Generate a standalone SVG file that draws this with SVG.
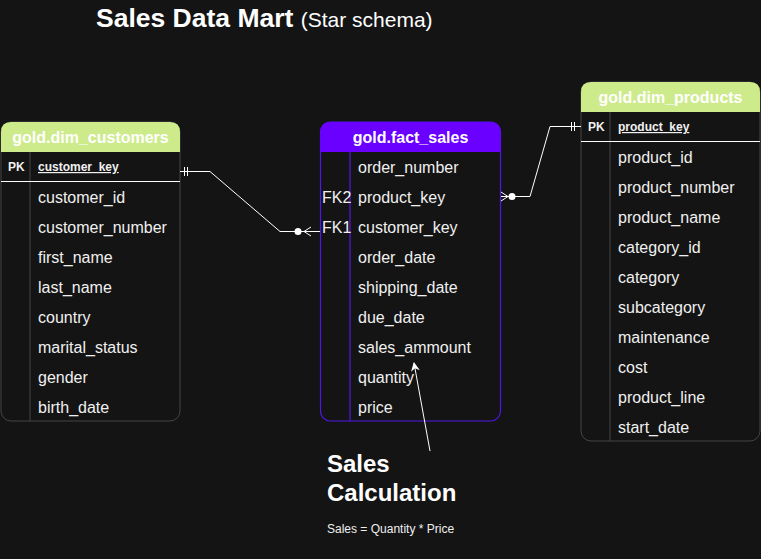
<svg xmlns="http://www.w3.org/2000/svg" width="761" height="559" viewBox="0 0 761 559">
<defs>
<style>
text{font-family:"Liberation Sans",Arial,sans-serif;fill:#f0f0f0}
.f{font-size:16px}
.h{font-size:16px;font-weight:bold;fill:#ffffff;text-anchor:middle}
.pk{font-size:12px;font-weight:bold}
.pkn{font-size:12px;font-weight:bold;text-decoration:underline}
.g{fill:#141414;stroke:#444444;stroke-width:1}
.p{fill:#141414;stroke:#4f18e6;stroke-width:1.2}
.ln{stroke:#ffffff;stroke-width:1;fill:none}
.gl{stroke:#444444;stroke-width:1}
.pl{stroke:#4f18e6;stroke-width:1.2}
</style>
<marker id="ah" viewBox="0 0 10 10" refX="9" refY="5" markerWidth="9" markerHeight="9" orient="auto-start-reverse" markerUnits="userSpaceOnUse">
<path d="M0,0 L10,5 L0,10 L3,5 Z" fill="#ffffff"/>
</marker>
</defs>
<rect width="761" height="559" fill="#141414"/>
<g id="title">
<text x="96" y="27" style="font-size:26.5px;font-weight:bold;fill:#ffffff">Sales Data Mart <tspan style="font-size:21px;font-weight:normal">(Star schema)</tspan></text>
</g>
<g id="dim_customers">
<rect class="g" x="1" y="122" width="179" height="299" rx="10"/>
<path d="M1,152 L1,132 Q1,122 11,122 L170,122 Q180,122 180,132 L180,152 Z" fill="#cdeb8b"/>
<line class="gl" x1="30" y1="152" x2="30" y2="421"/>
<line x1="1" y1="181.5" x2="180" y2="181.5" stroke="#ffffff" stroke-width="1.2"/>
<text class="h" x="90.5" y="143">gold.dim_customers</text>
<text class="pk" x="8" y="171">PK</text>
<text class="pkn" x="38" y="171">customer_key</text>
<text class="f" x="38" y="203">customer_id</text>
<text class="f" x="38" y="233">customer_number</text>
<text class="f" x="38" y="263">first_name</text>
<text class="f" x="38" y="293">last_name</text>
<text class="f" x="38" y="323">country</text>
<text class="f" x="38" y="353">marital_status</text>
<text class="f" x="38" y="383">gender</text>
<text class="f" x="38" y="413">birth_date</text>
</g>
<g id="fact_sales">
<rect class="p" x="320.5" y="122" width="180" height="299" rx="10"/>
<path d="M320.5,152 L320.5,132 Q320.5,122 330.5,122 L490.5,122 Q500.5,122 500.5,132 L500.5,152 Z" fill="#6a00ff"/>
<line class="pl" x1="350" y1="152" x2="350" y2="421"/>
<text class="h" x="410.5" y="143">gold.fact_sales</text>
<text class="f" x="358" y="173">order_number</text>
<text class="f" x="322" y="203">FK2</text>
<text class="f" x="358" y="203">product_key</text>
<text class="f" x="322" y="233">FK1</text>
<text class="f" x="358" y="233">customer_key</text>
<text class="f" x="358" y="263">order_date</text>
<text class="f" x="358" y="293">shipping_date</text>
<text class="f" x="358" y="323">due_date</text>
<text class="f" x="358" y="353">sales_ammount</text>
<text class="f" x="358" y="383">quantity</text>
<text class="f" x="358" y="413">price</text>
</g>
<g id="dim_products">
<rect class="g" x="581" y="82" width="179" height="359" rx="10"/>
<path d="M581,112 L581,92 Q581,82 591,82 L750,82 Q760,82 760,92 L760,112 Z" fill="#cdeb8b"/>
<line class="gl" x1="610" y1="112" x2="610" y2="441"/>
<line x1="581" y1="141.5" x2="760" y2="141.5" stroke="#ffffff" stroke-width="1.2"/>
<text class="h" x="670.5" y="103">gold.dim_products</text>
<text class="pk" x="588" y="131">PK</text>
<text class="pkn" x="618" y="131">product_key</text>
<text class="f" x="618" y="163">product_id</text>
<text class="f" x="618" y="193">product_number</text>
<text class="f" x="618" y="223">product_name</text>
<text class="f" x="618" y="253">category_id</text>
<text class="f" x="618" y="283">category</text>
<text class="f" x="618" y="313">subcategory</text>
<text class="f" x="618" y="343">maintenance</text>
<text class="f" x="618" y="373">cost</text>
<text class="f" x="618" y="403">product_line</text>
<text class="f" x="618" y="433">start_date</text>
</g>
<g id="note">
<text x="327" y="472" style="font-size:24px;font-weight:bold;fill:#ffffff">Sales</text>
<text x="327" y="501" style="font-size:24px;font-weight:bold;fill:#ffffff">Calculation</text>
<text x="327" y="533" style="font-size:12px">Sales = Quantity * Price</text>
</g>
<g id="connectors">
<path class="ln" d="M180,171.5 H210 L280,231.5 H320"/>
<line class="ln" x1="184.5" y1="167" x2="184.5" y2="176"/>
<line class="ln" x1="187.5" y1="167" x2="187.5" y2="176"/>
<circle cx="298" cy="231.5" r="3.5" fill="#ffffff"/>
<path class="ln" d="M311,227 L304,231.5 L311,236"/>
<path class="ln" d="M501,196.5 H530 L550,126.5 H581"/>
<line class="ln" x1="571.5" y1="122" x2="571.5" y2="131"/>
<line class="ln" x1="574.5" y1="122" x2="574.5" y2="131"/>
<circle cx="512" cy="196.5" r="3.5" fill="#ffffff"/>
<path class="ln" d="M501,192 L508,196.5 L501,201"/>
<line class="ln" x1="430" y1="451" x2="414" y2="363" marker-end="url(#ah)"/>
</g>
</svg>
